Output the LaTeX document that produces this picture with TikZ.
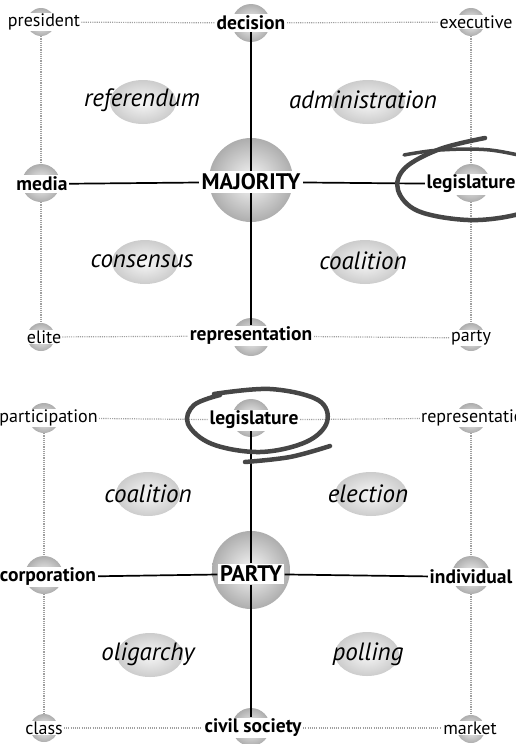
\documentclass[tikz,border=0pt]{standalone}
\usepackage{fontspec}
\setmainfont{PT Sans}
\usetikzlibrary{shapes.geometric}
\pgfdeclarelayer{bg}
\pgfsetlayers{bg,main}
\tikzset{
  sph/.style={circle, inner sep=0pt, minimum size=#1, shade, inner color=gray!6, outer color=gray!64},
  blob/.style={ellipse, inner sep=0pt, minimum width=#1, minimum height=44pt, shade, inner color=gray!6, outer color=gray!40},
  small/.style={fill=white, inner sep=1pt, font=\fontsize{18}{18}\selectfont},
  mid/.style={fill=white, inner sep=1.5pt, font=\fontsize{19.5}{19.5}\selectfont\bfseries},
  big/.style={fill=white, inner sep=2.5pt, font=\fontsize{22.5}{22.5}\selectfont\bfseries},
  ital/.style={inner sep=0pt, font=\fontsize{25}{25}\selectfont\itshape},
  dotl/.style={gray!75, line width=1.2pt, dash pattern=on 1.1pt off 1.1pt},
  sol/.style={black, line width=1.7pt},
  brush/.style={gray!55!black, line width=4.5pt, line cap=round, line join=round},
}
\begin{document}
\begin{tikzpicture}[x=1pt,y=-1pt]
\useasboundingbox (0,0) rectangle (515,744);
\begin{pgfonlayer}{bg}
% ---------- top spheres
\node[sph=28] (sp1) at (41,22) {};
\node[sph=38] (sp2) at (251,23) {};
\node[sph=28] (sp3) at (471,22) {};
\node[sph=38] (sp4) at (41,183) {};
\node[sph=84] (sp5) at (251,180) {};
\node[sph=38] (sp6) at (471,183) {};
\node[sph=28] (sp7) at (41,337) {};
\node[sph=38] (sp8) at (251,337) {};
\node[sph=28] (sp9) at (471,337) {};
% ---------- bottom spheres
\node[sph=30] (sq1) at (44,418) {};
\node[sph=38] (sq2) at (251,418) {};
\node[sph=30] (sq3) at (471,418) {};
\node[sph=38] (sq4) at (44,575) {};
\node[sph=78] (sq5) at (251,570) {};
\node[sph=38] (sq6) at (471,575) {};
\node[sph=28] (sq7) at (44,728) {};
\node[sph=38] (sq8) at (251,727) {};
\node[sph=28] (sq9) at (471,729) {};
% ---------- ellipses
\node[blob=66pt] (e1) at (143,102) {};
\node[blob=74pt] (e2) at (368,102) {};
\node[blob=66pt] (e3) at (145,262) {};
\node[blob=70pt] (e4) at (365,262) {};
\node[blob=64pt] (e5) at (148,494) {};
\node[blob=72pt] (e6) at (371,494) {};
\node[blob=66pt] (e7) at (150,655) {};
\node[blob=64pt] (e8) at (367,654) {};
% vertical dotted connectors between spheres
\draw[dotl] (sp1) -- (sp4);
\draw[dotl] (sp4) -- (sp7);
\draw[dotl] (sp3) -- (sp6);
\draw[dotl] (sp6) -- (sp9);
\draw[dotl] (sq1) -- (sq4);
\draw[dotl] (sq4) -- (sq7);
\draw[dotl] (sq3) -- (sq6);
\draw[dotl] (sq6) -- (sq9);
\end{pgfonlayer}
% ---------- top labels
\node[small] (president) at (44,22) {president};
\node[mid] (decision) at (251,23) {decision};
\node[small] (executive) at (476,22) {executive};
\node[mid] (media) at (42,184) {media};
\node[big] (majority) at (251,182) {MAJORITY};
\node[mid] (legis1) at (471,184) {legislature};
\node[small] (elite) at (44,337) {elite};
\node[mid] (repr1) at (251,336) {representation};
\node[small] (party) at (471,338) {party};
% ---------- bottom labels
\node[small] (particip) at (48.5,418) {participation};
\node[mid] (legis2) at (254,420) {legislature};
\node[small, anchor=west] (repr2) at (420,418) {representation};
\node[mid] (corp) at (48,577) {corporation};
\node[big] (partyb) at (251,574) {PARTY};
\node[mid] (indiv) at (471,577) {individual};
\node[small] (class) at (44,728) {class};
\node[mid] (civil) at (253,728) {civil society};
\node[small] (market) at (470,728) {market};
% ---------- italic labels
\node[ital] (t1) at (142,100) {referendum};
\node[ital] (t2) at (363,100) {administration};
\node[ital] (t3) at (142,261) {consensus};
\node[ital] (t4) at (363,261) {coalition};
\node[ital] (t5) at (148,494) {coalition};
\node[ital] (t6) at (368,494) {election};
\node[ital] (t7) at (148,654) {oligarchy};
\node[ital] (t8) at (368,654) {polling};
\begin{pgfonlayer}{bg}
% top connectors
\draw[dotl] (president) -- (decision);
\draw[dotl] (decision) -- (executive);
\draw[dotl] (elite) -- (repr1);
\draw[dotl] (repr1) -- (party);
\draw[sol] (decision) -- (majority);
\draw[sol] (majority) -- (repr1);
\draw[sol] (media) -- (majority);
\draw[sol] (majority) -- (legis1);
% bottom connectors
\draw[dotl] (particip) -- (legis2);
\draw[dotl] (legis2) -- (repr2);
\draw[dotl] (class) -- (civil);
\draw[dotl] (civil) -- (market);
\draw[sol] (legis2.south -| partyb) -- (partyb);
\draw[sol] (partyb) -- (civil.north -| partyb);
\draw[sol] (corp) -- (partyb);
\draw[sol] (partyb) -- (indiv);
\end{pgfonlayer}
% ---------- brush strokes
\draw[brush] plot[smooth, tension=0.6] coordinates {(485,138) (440,149) (405,168) (398,190) (418,211) (468,220) (515,215) (540,203)};
\draw[brush, line width=3.5pt] plot[smooth, tension=0.6] coordinates {(404,155) (440,150) (490,150) (540,160)};
\draw[brush] plot[smooth, tension=0.6] coordinates {(214,394) (270,389) (318,400) (327,422) (306,442) (260,452) (212,444) (188,424) (194,405) (220,395)};
\draw[brush] plot[smooth, tension=0.6] coordinates {(330,446) (290,457) (245,462)};
\end{tikzpicture}
\end{document}
